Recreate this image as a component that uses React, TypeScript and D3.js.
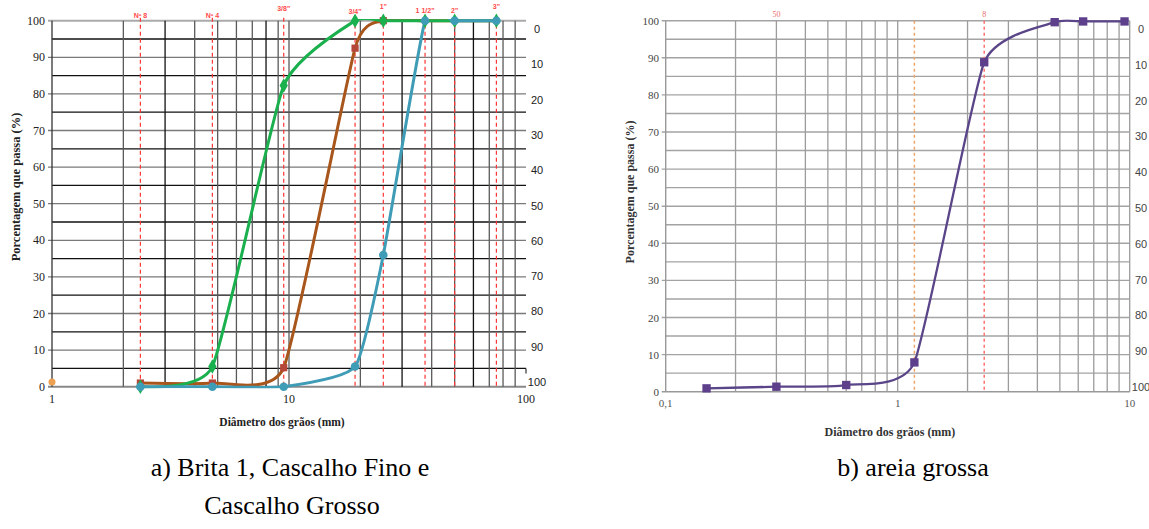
import React, { useRef, useEffect } from 'react'
import * as d3 from 'd3'

// chart a) sieve openings (mm) and passing (%)
const sieveA = [2.36, 4.75, 9.5, 19, 25, 37.5, 50, 75]
const sieveALabels = ['Nº 8', 'Nº 4', '3/8"', '3/4"', '1"', '1 1/2"', '2"', '3"']
const britaPass = [0, 5.5, 82.3, 100, 100, 100, 100, 100]
const finoPass = [1, 1, 5.2, 92.5, 100, 100, 100, 100]
const grossoPass = [0, 0, 0, 5.5, 36, 100, 100, 100]
const extraSieve = [1]
const extraPass = [1]
const xTicksA = [1, 10, 100]

// chart b) areia grossa
const sieveB = [0.15, 0.3, 0.6, 1.18, 2.36, 4.75, 6.3, 9.5]
const areiaPass = [0.9, 1.35, 1.8, 7.9, 88.8, 99.6, 99.8, 99.8]
const xTicksB = [0.1, 1, 10]
const xTickLabelsB = ['0,1', '1', '10']
const sieveBLines = [1.18, 2.36]
const sieveBLabelAt = [0.3, 2.36]
const sieveBLabels = ['50', '8']

const yTicks = d3.range(0, 101, 10)

// staggered rows of the sieve names above chart a)
const sieveALabelDy = [0, 0, 7, 4, 9, 5, 5, 9]

const W = 1149
const H = 529
const SERIF = "'Liberation Serif', 'Times New Roman', serif"
const SANS = "'Liberation Sans', Arial, sans-serif"

type Sel = d3.Selection<SVGGElement, unknown, null, undefined>

function txt(g: Sel, x: number, y: number, s: string | number, font: string, size: number, fill: string, anchor = 'middle', bold = false) {
  return g.append('text')
    .attr('x', x).attr('y', y)
    .attr('text-anchor', anchor)
    .style('font-family', font)
    .style('font-size', size + 'px')
    .style('font-weight', bold ? 'bold' : 'normal')
    .style('fill', fill)
    .text(s)
}

function drawA(g: Sel) {
  const x = d3.scaleLog().domain([1, 100]).range([52, 526])
  const y = d3.scaleLinear().domain([0, 100]).range([386.7, 20.7])
  const yR = d3.scaleLinear().domain([0, 100]).range([29, 382])

  // horizontal grid
  d3.range(5, 100, 5).forEach(v => {
    g.append('line')
      .attr('x1', v % 10 === 0 ? x(1) - 4 : x(1)).attr('x2', x(100))
      .attr('y1', y(v)).attr('y2', y(v))
      .attr('stroke', v % 10 === 0 ? '#7a7a7a' : '#111')
      .attr('stroke-width', 1.3)
  })
  g.append('line').attr('x1', x(1) - 4).attr('x2', x(100)).attr('y1', y(100)).attr('y2', y(100))
    .attr('stroke', '#aaa').attr('stroke-width', 2)
  g.append('line').attr('x1', x(1) - 4).attr('x2', x(100)).attr('y1', y(0)).attr('y2', y(0))
    .attr('stroke', '#888').attr('stroke-width', 2)

  // vertical grid
  x.ticks().filter(v => v > 1 && v < 100).forEach(v => {
    g.append('line')
      .attr('x1', x(v)).attr('x2', x(v)).attr('y1', y(0)).attr('y2', y(100))
      .attr('stroke', v === 3 || v === 8 || v === 30 || v === 60 ? '#111' : '#5a5a5a')
      .attr('stroke-width', 1.3)
  })
  g.append('line').attr('x1', x(1)).attr('x2', x(1)).attr('y1', y(0)).attr('y2', y(100))
    .attr('stroke', '#333').attr('stroke-width', 1.3)
  g.append('line').attr('x1', x(100)).attr('x2', x(100)).attr('y1', y(5)).attr('y2', y(5) + 5)
    .attr('stroke', '#333').attr('stroke-width', 1.2)

  // sieve lines
  sieveA.forEach((s, i) => {
    g.append('line')
      .attr('x1', x(s)).attr('x2', x(s)).attr('y1', y(100) - 3).attr('y2', y(0))
      .attr('stroke', '#ff3535').attr('stroke-width', 1.2).attr('stroke-dasharray', '4,3')
    txt(g, x(s), 18 - sieveALabelDy[i], sieveALabels[i], SANS, 7, '#ff4a4a', 'middle', true)
  })

  // curves
  g.append('clipPath').attr('id', 'clipA').append('rect')
    .attr('x', x(1) - 6).attr('y', y(100) - 1.6).attr('width', x(100) - x(1) + 12).attr('height', y(0) - y(100) + 3.2)
  const line = d3.line<[number, number]>()
    .x(d => x(d[0])).y(d => y(d[1]))
    .curve(d3.curveCardinal.tension(0.5))

  const fino = sieveA.map((s, i) => [s, finoPass[i]] as [number, number])
  const brita = sieveA.map((s, i) => [s, britaPass[i]] as [number, number])
  const grosso = sieveA.map((s, i) => [s, grossoPass[i]] as [number, number])

  const series = [
    { data: fino, color: '#a8561c' },
    { data: brita, color: '#1bb04e' },
    { data: grosso, color: '#3f9cb6' },
  ]
  series.forEach(sr => {
    g.append('path').datum(sr.data)
      .attr('clip-path', 'url(#clipA)')
      .attr('fill', 'none').attr('stroke', sr.color).attr('stroke-width', 3)
      .attr('stroke-linejoin', 'round')
      .attr('d', line)
  })

  // markers
  g.selectAll('.mFino').data(fino.slice(0, 5)).enter().append('path')
    .attr('transform', d => `translate(${x(d[0])},${y(d[1])})`)
    .attr('d', d3.symbol(d3.symbolSquare, 52)())
    .attr('fill', '#b4473a')
  g.selectAll('.mBrita').data(brita).enter().append('path')
    .attr('transform', d => `translate(${x(d[0])},${y(d[1])})`)
    .attr('d', d3.symbol(d3.symbolDiamond, 60)())
    .attr('fill', '#1bb04e')
  g.selectAll('.mGrosso').data(grosso).enter().append('circle')
    .attr('cx', d => x(d[0])).attr('cy', d => y(d[1])).attr('r', 4.3)
    .attr('fill', '#3f9cb6')
  g.selectAll('.mExtra').data(extraSieve).enter().append('circle')
    .attr('cx', d => x(d)).attr('cy', (d, i) => y(extraPass[i]) - 1).attr('r', 3.5)
    .attr('fill', '#eda052')

  // axes labels
  yTicks.forEach(v => {
    txt(g, 45, y(v) + 4, v, SERIF, 12, '#222', 'end')
    txt(g, 537, yR(v) + 4, v, SANS, 11, '#222')
  })
  xTicksA.forEach(v => {
    txt(g, x(v), 403, v, SERIF, 12, '#222')
  })
  txt(g, 0, 0, 'Porcentagem que passa (%)', SERIF, 12.5, '#222', 'middle', true)
    .attr('transform', 'translate(20,187) rotate(-90)')
  txt(g, 282, 426, 'Diâmetro dos grãos (mm)', SERIF, 11.5, '#222', 'middle', true)
}

function drawB(g: Sel) {
  const x = d3.scaleLog().domain([0.1, 10]).range([665.7, 1129.7])
  const y = d3.scaleLinear().domain([0, 100]).range([391.7, 20.7])
  const yR = d3.scaleLinear().domain([0, 100]).range([29, 387])

  d3.range(5, 101, 5).forEach(v => {
    g.append('line')
      .attr('x1', v % 10 === 0 ? x(0.1) - 4 : x(0.1)).attr('x2', x(10))
      .attr('y1', y(v)).attr('y2', y(v))
      .attr('stroke', '#a3a3a3').attr('stroke-width', 1.4)
  })
  x.ticks().filter(v => v > 0.1).forEach(v => {
    g.append('line')
      .attr('x1', x(v)).attr('x2', x(v)).attr('y1', y(0)).attr('y2', y(100))
      .attr('stroke', '#9c9c9c').attr('stroke-width', 1.3)
  })
  g.append('line').attr('x1', x(0.1) - 4).attr('x2', x(10)).attr('y1', y(0)).attr('y2', y(0))
    .attr('stroke', '#999').attr('stroke-width', 1.6)
  g.append('line').attr('x1', x(0.1)).attr('x2', x(0.1)).attr('y1', y(0)).attr('y2', y(100))
    .attr('stroke', '#999').attr('stroke-width', 1.4)

  sieveBLines.forEach((s, i) => {
    g.append('line')
      .attr('x1', x(s)).attr('x2', x(s)).attr('y1', y(100)).attr('y2', y(0))
      .attr('stroke', i === 0 ? '#eea566' : '#ff6f6f').attr('stroke-width', 1.5)
      .attr('stroke-dasharray', '3,3')
  })
  sieveBLabelAt.forEach((s, i) => {
    txt(g, x(s), 17, sieveBLabels[i], SERIF, 8, '#ee6e6e')
  })

  g.append('clipPath').attr('id', 'clipB').append('rect')
    .attr('x', x(0.1) - 6).attr('y', y(100) - 1.5).attr('width', x(10) - x(0.1) + 12).attr('height', y(0) - y(100) + 3)
  const line = d3.line<[number, number]>()
    .x(d => x(d[0])).y(d => y(d[1]))
    .curve(d3.curveCardinal.tension(0.5))
  const areia = sieveB.map((s, i) => [s, areiaPass[i]] as [number, number])
  g.append('path').datum(areia)
    .attr('clip-path', 'url(#clipB)')
    .attr('fill', 'none').attr('stroke', '#5a4588').attr('stroke-width', 2.3)
    .attr('d', line)
  g.selectAll('.mAreia').data(areia).enter().append('path')
    .attr('transform', d => `translate(${x(d[0])},${y(d[1])})`)
    .attr('d', d3.symbol(d3.symbolSquare, 70)())
    .attr('fill', '#5d3f8c')

  yTicks.forEach(v => {
    txt(g, 659, y(v) + 4, v, SERIF, 11, '#444', 'end')
    txt(g, 1141, yR(v) + 4, v, SANS, 11, '#444')
  })
  xTicksB.forEach((v, i) => {
    txt(g, x(v), 407, xTickLabelsB[i], SERIF, 11, '#555')
  })
  txt(g, 0, 0, 'Porcentagem que passa (%)', SERIF, 12, '#333', 'middle', true)
    .attr('transform', 'translate(634,192) rotate(-90)')
  txt(g, 890, 436, 'Diâmetro dos grãos (mm)', SERIF, 12, '#333', 'middle', true)
}

const App = () => {
  const ref = useRef<SVGSVGElement>(null)

  useEffect(() => {
    const svg = d3.select(ref.current)
    svg.selectAll('*').remove()
    drawA(svg.append('g') as unknown as Sel)
    drawB(svg.append('g') as unknown as Sel)

    const cap = svg.append('g') as unknown as Sel
    txt(cap, 290, 476, 'a) Brita 1, Cascalho Fino e', SERIF, 26, '#000')
    txt(cap, 292, 514, 'Cascalho Grosso', SERIF, 26, '#000')
    txt(cap, 913, 476, 'b) areia grossa', SERIF, 26, '#000')
  }, [])

  return (
    <svg ref={ref} width={W} height={H}
      style={{ position: 'absolute', left: 0, top: 0, background: '#fff' }} />
  )
}

export default App
